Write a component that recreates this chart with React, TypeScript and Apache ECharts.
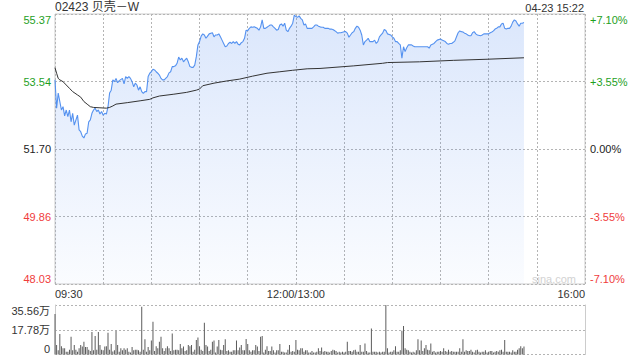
import React, { useEffect, useRef } from "react";
import * as echarts from "echarts";

const PREV_CLOSE = 51.7;
const Y_TOP = 55.37;
const TITLE = "02423 贝壳－W";
const STAMP = "04-23 15:22";
const WATERMARK = "sina.com";
const X_LABELS: Record<number, string> = { 0: "09:30", 150: "12:00/13:00", 330: "16:00" };
const PRICE_TICKS = ["48.03", "49.86", "51.70", "53.54", "55.37"];
const PCT_TICKS = ["-7.10%", "-3.55%", "0.00%", "+3.55%", "+7.10%"];
const TICK_COLORS = ["#f03c3c", "#f03c3c", "#222222", "#1ea01e", "#1ea01e"];
const VOL_MAX = 35.56;
const VOL_TICKS = ["0", "17.78万", "35.56万"];

// minute index from 09:30 (lunch break removed), price
const PRICE_MIN = [
  0, 1, 2, 4, 5, 6, 7, 8, 9, 10, 11, 12, 14, 15, 16, 17, 18, 19, 20, 21, 22, 23, 24, 25, 26, 27, 28, 29, 30, 31, 32, 33, 34, 35, 36, 37, 38, 39, 40, 42, 43, 44, 45, 46, 47, 48, 49, 50, 51, 52, 53, 54, 55, 56, 57, 58, 59, 60, 61, 62, 63, 64, 65, 66, 67, 68, 70, 71, 72,
  73, 74, 75, 76, 77, 78, 79, 80, 81, 82, 83, 84, 85, 86, 87, 88, 89, 90, 91, 92, 93, 94, 95, 96, 98, 99, 100, 101, 102, 103, 104, 105, 106, 107, 108, 109, 110, 111, 112, 113, 114, 115, 116, 117, 118, 119, 120, 121, 122, 123, 124, 126, 127, 128, 129, 130, 131, 132, 133, 134, 135, 136, 137, 138, 139,
  140, 141, 142, 143, 144, 145, 146, 147, 148, 149, 150, 151, 152, 153, 154, 155, 156, 157, 158, 159, 160, 161, 162, 163, 164, 165, 166, 167, 168, 169, 170, 171, 172, 173, 174, 175, 176, 177, 178, 180, 181, 182, 183, 184, 185, 186, 187, 188, 189, 190, 191, 192, 193, 194, 195, 196, 197, 198, 199, 200, 201, 202, 203, 204, 205, 206, 207, 209, 210, 211,
  212, 213, 214, 215, 216, 217, 218, 219, 220, 221, 222, 223, 224, 226, 228, 230, 232, 233, 234, 235, 236, 237, 238, 240, 241, 242, 243, 244, 245, 246, 247, 248, 249, 250, 251, 252, 253, 254, 255, 256, 257, 258, 259, 260, 261, 262, 263, 265, 266, 267, 268, 269, 270, 271, 272, 273, 274, 275, 276, 277, 278, 279, 280, 281, 282, 283, 284, 285, 286, 287, 288, 289, 290, 291, 292,
];
const PRICE = [
  53.58, 52.81, 53.22, 52.76, 52.85, 52.6, 52.76, 52.58, 52.76, 52.44, 52.67, 52.35, 52.62, 52.22, 52.17, 52.05, 52.0, 52.11, 52.13, 52.44, 52.49, 52.67, 52.76, 52.81, 52.72, 52.76, 52.65, 52.72, 52.62, 52.67, 52.65, 52.85, 53.22, 53.3, 53.58, 53.53, 53.62, 53.5, 53.56, 53.62, 53.47, 53.67, 53.62, 53.67, 53.62, 53.53, 53.39, 53.49, 53.44, 53.3, 53.39, 53.26, 53.21, 53.26, 53.26, 53.67, 53.76, 53.8, 53.87, 53.85, 53.8, 53.76, 53.71, 53.62, 53.58, 53.58, 53.67, 53.77, 53.8,
  53.94, 53.94, 53.96, 54.03, 54.2, 54.12, 54.17, 54.07, 54.12, 54.17, 54.07, 53.94, 53.92, 53.92, 53.98, 54.21, 54.53, 54.62, 54.77, 54.83, 54.8, 54.71, 54.77, 54.83, 54.86, 54.75, 54.8, 54.8, 54.83, 54.75, 54.66, 54.57, 54.48, 54.5, 54.57, 54.6, 54.57, 54.62, 54.57, 54.62, 54.55, 54.53, 54.59, 54.62, 54.71, 54.93, 54.92, 54.98, 55.02, 55.01, 55.02, 54.98, 54.93, 55.02, 55.21, 54.98, 54.98, 55.01, 55.04, 55.07, 55.07, 55.02, 54.98, 54.93, 54.95,
  55.07, 55.1, 55.04, 55.12, 54.93, 54.89, 54.98, 55.04, 55.12, 55.34, 55.3, 55.28, 55.32, 55.25, 55.21, 55.07, 55.1, 54.98, 54.98, 54.98, 54.98, 55.02, 55.07, 55.07, 55.04, 55.02, 55.01, 55.01, 54.98, 54.98, 54.98, 54.96, 54.96, 54.95, 54.92, 54.89, 54.85, 54.86, 54.86, 54.89, 54.89, 54.85, 54.74, 54.8, 54.86, 54.89, 54.98, 55.04, 55.01, 54.93, 54.8, 54.53, 54.62, 54.66, 54.71, 54.62, 54.62, 54.62, 54.66, 54.57, 54.62, 54.75, 54.8, 54.85, 54.95, 54.92, 54.83, 54.8, 54.75, 54.71,
  54.62, 54.62, 54.57, 54.53, 54.17, 54.48, 54.35, 54.45, 54.53, 54.53, 54.53, 54.5, 54.48, 54.48, 54.48, 54.48, 54.48, 54.44, 54.53, 54.55, 54.57, 54.62, 54.66, 54.69, 54.66, 54.64, 54.62, 54.57, 54.55, 54.57, 54.57, 54.6, 54.64, 54.75, 54.86, 54.91, 54.89, 54.88, 54.85, 54.83, 54.8, 54.78, 54.78, 54.86, 54.89, 54.83, 54.8, 54.78, 54.8, 54.83, 54.83, 54.83, 54.83, 54.86, 54.88, 54.91, 54.96, 54.98, 55.02, 55.02, 55.1, 55.12, 54.98, 54.96, 54.98, 54.98, 55.04, 55.15, 55.21, 55.18, 55.1, 55.04, 55.12, 55.12, 55.14,
];

const AVG_MIN = [0, 1, 2, 3, 5, 7, 9, 11, 14, 16, 18, 20, 22, 24, 28, 32, 34, 36, 38, 45, 53, 59, 61, 65, 74, 82, 88, 90, 92, 99, 107, 115, 123, 132, 140, 148, 157, 165, 186, 204, 207, 227, 248, 269, 292];
const AVG = [53.91, 53.76, 53.62, 53.58, 53.53, 53.44, 53.35, 53.26, 53.17, 53.11, 52.99, 52.92, 52.85, 52.83, 52.82, 52.81, 52.83, 52.87, 52.92, 52.96, 53.01, 53.05, 53.09, 53.14, 53.19, 53.24, 53.3, 53.33, 53.42, 53.49, 53.55, 53.6, 53.68, 53.76, 53.8, 53.84, 53.88, 53.89, 53.96, 54.03, 54.05, 54.07, 54.11, 54.14, 54.18];

// volume per minute, in 万 shares, minute 0..292
const VOLUME = [
  29.1, 6.8, 3.0, 14.7, 6.0, 4.5, 4.5, 2.0, 2.0, 3.5,
  12.8, 3.0, 6.8, 3.5, 2.0, 4.5, 6.8, 5.7, 9.2, 5.3,
  5.3, 3.5, 2.5, 16.2, 3.0, 13.3, 3.5, 16.2, 6.8, 3.5,
  3.0, 5.7, 6.0, 15.6, 3.5, 7.5, 2.2, 3.0, 17.1, 6.8,
  2.0, 4.5, 3.0, 4.5, 3.5, 4.5, 2.0, 1.5, 5.3, 3.0,
  3.5, 3.5, 3.0, 2.0, 34.3, 3.5, 10.9, 2.0, 5.3, 3.0,
  10.0, 23.6, 2.5, 6.0, 4.5, 9.2, 12.8, 4.5, 2.5, 4.5,
  6.0, 4.5, 2.5, 15.1, 3.0, 3.5, 3.5, 3.0, 7.5, 4.5,
  5.7, 2.5, 3.0, 6.8, 6.0, 6.8, 2.0, 3.5, 10.4, 12.3,
  6.0, 3.5, 2.5, 22.8, 6.8, 5.7, 2.5, 3.5, 9.2, 10.0,
  1.5, 5.7, 10.4, 3.5, 3.0, 6.8, 10.9, 2.5, 3.0, 2.0,
  2.0, 3.0, 3.0, 10.0, 3.0, 5.0, 6.8, 3.0, 3.0, 11.2,
  7.5, 3.0, 2.0, 3.0, 3.0, 6.8, 5.7, 2.5, 12.8, 13.3,
  1.5, 3.5, 6.0, 2.5, 2.5, 5.7, 3.0, 1.5, 3.0, 3.0,
  7.5, 2.0, 2.0, 1.5, 1.5, 3.5, 6.8, 2.0, 2.5, 2.0,
  10.4, 3.5, 3.0, 4.5, 4.5, 2.0, 3.0, 3.0, 1.5, 1.5,
  2.5, 1.5, 1.5, 2.0, 4.5, 2.5, 5.0, 2.0, 2.5, 2.0,
  2.0, 1.5, 2.5, 3.5, 3.0, 2.5, 1.5, 2.0, 1.5, 2.0,
  1.5, 2.0, 9.2, 2.5, 2.5, 2.0, 3.0, 3.5, 2.0, 2.0,
  6.8, 2.0, 2.0, 7.9, 2.5, 1.5, 1.5, 18.7, 2.0, 2.0,
  2.0, 1.5, 2.0, 1.5, 2.0, 2.0, 35.56, 4.5, 1.5, 2.0,
  2.0, 3.0, 6.0, 2.0, 2.0, 3.0, 17.1, 20.5, 4.5, 3.5,
  3.0, 2.0, 1.5, 2.0, 1.5, 3.0, 10.9, 3.0, 10.0, 2.5,
  4.5, 6.8, 3.5, 3.0, 7.9, 2.0, 2.5, 1.5, 2.0, 2.0,
  2.5, 2.0, 4.5, 2.5, 2.0, 3.5, 2.0, 2.5, 2.0, 2.0,
  2.0, 2.0, 4.5, 2.0, 10.9, 2.0, 3.0, 2.5, 2.5, 3.5,
  2.0, 1.5, 3.0, 3.5, 2.0, 1.5, 2.0, 2.0, 3.0, 1.5,
  2.0, 2.5, 2.5, 1.5, 2.0, 2.5, 2.0, 3.0, 3.5, 2.0,
  10.4, 2.0, 2.0, 2.0, 1.5, 3.0, 2.0, 2.0, 3.5, 4.5,
  6.0, 4.5, 5.7,
];

const FONT = '"Liberation Sans", Arial, "Noto Sans CJK SC", sans-serif';
const BORDER = "#cccccc";
const DOT = "#b4b4b4";

export default function App() {
  const ref = useRef<HTMLDivElement>(null);
  useEffect(() => {
    if (!ref.current) return;
    const chart = echarts.init(ref.current, undefined, { renderer: "svg" });
    const half = +((Y_TOP - PREV_CLOSE) / 2).toFixed(4);
    const tickIdx = (v: number) => Math.max(0, Math.min(4, Math.round(v / half) + 2));
    const volIdx = (v: number) => Math.max(0, Math.min(2, Math.round(v / (VOL_MAX / 2))));
    const dotted = { color: DOT, type: [2, 2] as any, width: 1 };

    chart.setOption({
      animation: false,
      textStyle: { fontFamily: FONT },
      title: [
        { text: TITLE, left: 55, top: 1, padding: 0, textStyle: { fontSize: 12, fontWeight: "normal", color: "#333", fontFamily: FONT } },
        { text: STAMP, right: 56, top: 2, padding: 0, textStyle: { fontSize: 11, fontWeight: "normal", color: "#333", fontFamily: FONT } },
      ],
      grid: [
        { left: 55, top: 14, width: 530, height: 270, show: true, borderColor: BORDER, borderWidth: 1 },
        { left: 55, top: 305, width: 530, height: 49.5, show: false },
      ],
      xAxis: [
        {
          type: "value", gridIndex: 0, min: 0, max: 330, interval: 30,
          axisLine: { show: false }, axisTick: { show: false },
          splitLine: { show: true, lineStyle: dotted },
          axisLabel: {
            margin: 4, fontSize: 11, color: "#333", fontFamily: FONT,
            showMinLabel: true, showMaxLabel: true,
            alignMinLabel: "left", alignMaxLabel: "right",
            formatter: (v: number) => X_LABELS[Math.round(v)] ?? "",
          },
        },
        {
          type: "value", gridIndex: 1, min: 0, max: 330, interval: 30,
          axisLine: { show: false }, axisTick: { show: false },
          splitLine: { show: false }, axisLabel: { show: false },
        },
      ],
      yAxis: [
        {
          type: "value", gridIndex: 0, position: "left", min: -2 * half, max: 2 * half, interval: half,
          axisLine: { show: false }, axisTick: { show: false },
          splitLine: { show: true, lineStyle: dotted },
          axisLabel: {
            margin: 4, fontSize: 11, fontFamily: FONT,
            verticalAlignMinLabel: "bottom", verticalAlignMaxLabel: "top",
            formatter: (v: number) => PRICE_TICKS[tickIdx(v)],
            color: (v: any) => TICK_COLORS[tickIdx(Number(v))],
          },
        },
        {
          type: "value", gridIndex: 0, position: "right", min: -2 * half, max: 2 * half, interval: half,
          axisLine: { show: false }, axisTick: { show: false }, splitLine: { show: false },
          axisLabel: {
            margin: 5, fontSize: 11, fontFamily: FONT,
            verticalAlignMinLabel: "bottom", verticalAlignMaxLabel: "top",
            formatter: (v: number) => PCT_TICKS[tickIdx(v)],
            color: (v: any) => TICK_COLORS[tickIdx(Number(v))],
          },
        },
        {
          type: "value", gridIndex: 1, position: "left", min: 0, max: VOL_MAX, interval: VOL_MAX / 2,
          axisLine: { show: true, lineStyle: { color: BORDER } }, axisTick: { show: false },
          splitLine: { show: true, lineStyle: dotted },
          axisLabel: {
            margin: 5, fontSize: 11, color: "#333", fontFamily: FONT,
            verticalAlignMinLabel: "bottom", verticalAlignMaxLabel: "top",
            formatter: (v: number) => VOL_TICKS[volIdx(v)],
          },
        },
        {
          type: "value", gridIndex: 1, position: "right", min: 0, max: VOL_MAX, interval: VOL_MAX / 2,
          axisLine: { show: true, lineStyle: { color: BORDER } }, axisTick: { show: false },
          splitLine: { show: false }, axisLabel: { show: false },
        },
      ],
      graphic: [
        { type: "text", left: 532, top: 273, style: { text: WATERMARK, fontSize: 11, fill: "#d2d2d2", fontFamily: FONT } },
      ],
      series: [
        {
          type: "line", xAxisIndex: 0, yAxisIndex: 0, silent: true, z: 2,
          data: PRICE_MIN.map((m, i) => [m, PRICE[i] - PREV_CLOSE]),
          showSymbol: false, symbol: "none",
          lineStyle: { color: "#5592f0", width: 1.1 },
          itemStyle: { color: "#5592f0" },
          areaStyle: {
            origin: "start",
            color: new echarts.graphic.LinearGradient(0, 0, 0, 1, [
              { offset: 0, color: "rgba(84,140,240,0.30)" },
              { offset: 1, color: "rgba(84,140,240,0.04)" },
            ]),
          },
        },
        {
          type: "line", xAxisIndex: 0, yAxisIndex: 0, silent: true, z: 3,
          data: AVG_MIN.map((m, i) => [m, AVG[i] - PREV_CLOSE]),
          showSymbol: false, symbol: "none",
          lineStyle: { color: "#333333", width: 1 },
        },
        {
          type: "bar", xAxisIndex: 1, yAxisIndex: 2, silent: true,
          data: VOLUME.map((v, i) => [i, v]),
          barWidth: 1,
          itemStyle: { color: "#5c5c5c" },
        },
      ],
    });
    return () => chart.dispose();
  }, []);
  return <div ref={ref} style={{ position: "absolute", left: 0, top: 0, width: 640, height: 360 }} />;
}
